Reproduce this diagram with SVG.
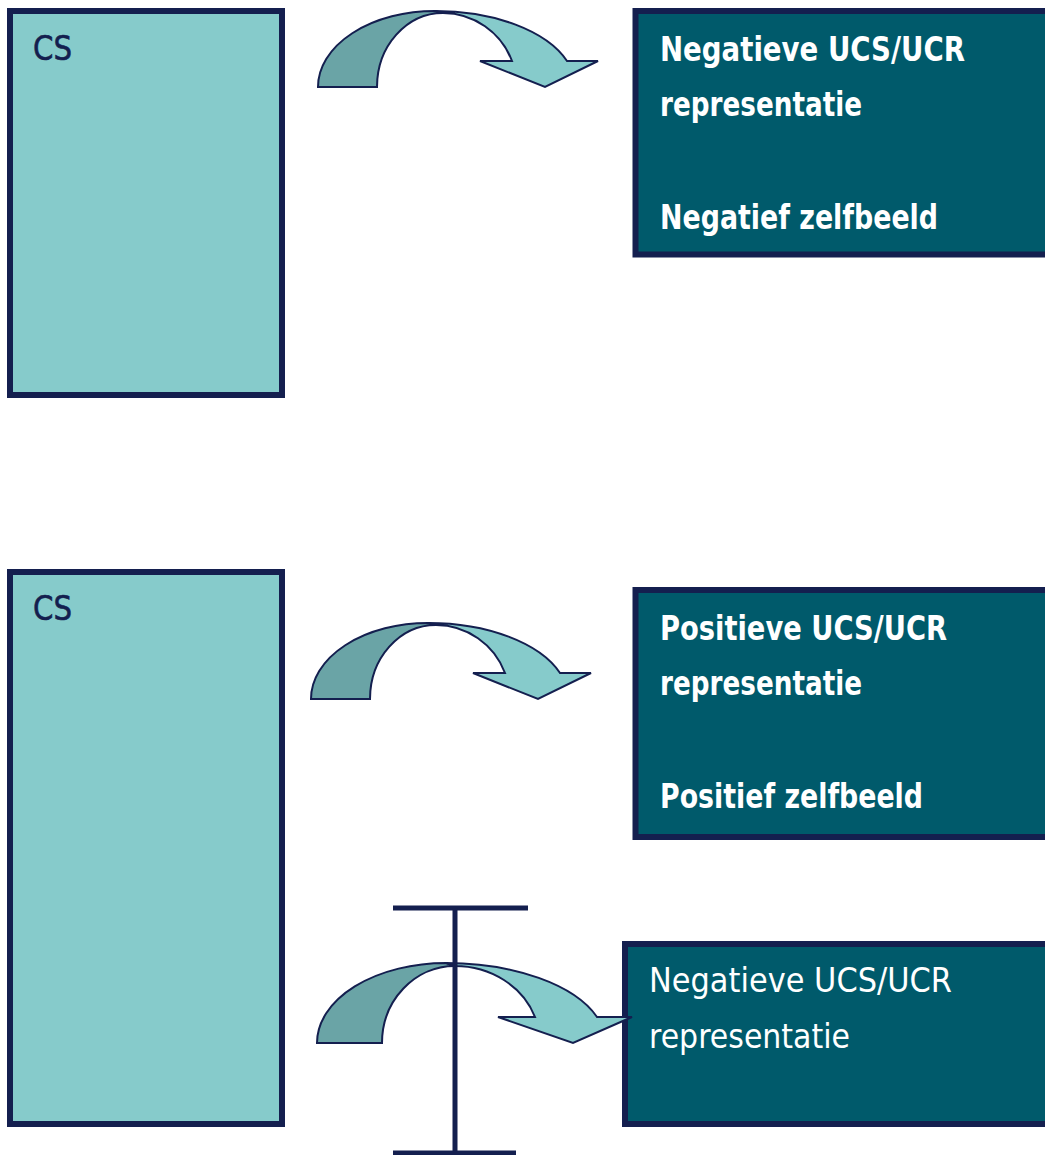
<svg xmlns="http://www.w3.org/2000/svg" width="1045" height="1155" viewBox="0 0 1045 1155">
  <style>
    .cs { fill: #86cbcb; stroke: #141f4f; stroke-width: 6; }
    .dk { fill: #005a6b; stroke: #141f4f; stroke-width: 6; }
    .cst { font-family: "DejaVu Sans", sans-serif; font-size: 33px; fill: #141f4f; stroke: #141f4f; stroke-width: 0.6; }
    .wt { font-family: "DejaVu Sans", sans-serif; font-size: 33px; font-weight: bold; fill: #ffffff; }
    .wr { font-family: "DejaVu Sans", sans-serif; font-size: 34px; fill: #ffffff; }
    .back { fill: #6aa4a6; stroke: #141f4f; stroke-width: 2; stroke-linejoin: miter; }
    .front { fill: #86cbcb; stroke: #141f4f; stroke-width: 2; stroke-linejoin: miter; }
    .bar { stroke: #141f4f; stroke-width: 5; fill: none; }
  </style>

  <g id="cs1">
    <rect class="cs" x="10" y="11" width="272" height="384"/>
    <text class="cst" x="33" y="60" textLength="39" lengthAdjust="spacingAndGlyphs">CS</text>
  </g>
  <g id="cs2">
    <rect class="cs" x="10" y="572" width="272" height="552"/>
    <text class="cst" x="33" y="620" textLength="39" lengthAdjust="spacingAndGlyphs">CS</text>
  </g>

  <g id="neg1">
    <rect class="dk" x="635.5" y="11" width="420" height="243.5"/>
    <text class="wt" x="660" y="61" textLength="305" lengthAdjust="spacingAndGlyphs">Negatieve UCS/UCR</text>
    <text class="wt" x="660" y="116" textLength="202" lengthAdjust="spacingAndGlyphs">representatie</text>
    <text class="wt" x="660" y="229" textLength="278" lengthAdjust="spacingAndGlyphs">Negatief zelfbeeld</text>
  </g>
  <g id="pos">
    <rect class="dk" x="635.5" y="590" width="420" height="247"/>
    <text class="wt" x="660" y="640" textLength="287" lengthAdjust="spacingAndGlyphs">Positieve UCS/UCR</text>
    <text class="wt" x="660" y="695" textLength="202" lengthAdjust="spacingAndGlyphs">representatie</text>
    <text class="wt" x="660" y="808" textLength="263" lengthAdjust="spacingAndGlyphs">Positief zelfbeeld</text>
  </g>
  <g id="neg2">
    <rect class="dk" x="625" y="944" width="430" height="180"/>
    <text class="wr" x="649" y="992" textLength="303" lengthAdjust="spacingAndGlyphs">Negatieve UCS/UCR</text>
    <text class="wr" x="649" y="1048" textLength="201" lengthAdjust="spacingAndGlyphs">representatie</text>
  </g>

  <g id="connectors">
    <g id="arrow1">
      <path class="back" d="M318,87 A117,76 0 0 1 435,11 L443,13 A66,74 0 0 0 377,87 Z"/>
      <path class="front" d="M435,11 A140,76 0 0 1 567,61 L598,61 L545,87 L480,61 L512,61 A74,74 0 0 0 443,13 Z"/>
    </g>
    <g id="arrow2" transform="translate(-7,612)">
      <path class="back" d="M318,87 A117,76 0 0 1 435,11 L443,13 A66,74 0 0 0 377,87 Z"/>
      <path class="front" d="M435,11 A140,76 0 0 1 567,61 L598,61 L545,87 L480,61 L512,61 A74,74 0 0 0 443,13 Z"/>
    </g>
    <g id="arrow3">
      <path class="back" d="M317,1043 A129,80 0 0 1 446,963 L455,966 A73,77 0 0 0 382,1043 Z"/>
      <path class="front" d="M446,963 A160,80 0 0 1 597,1017 L632,1017 L573,1043 L498,1017 L535,1017 A85,77 0 0 0 455,966 Z"/>
    </g>
    <g id="inhibit">
      <line class="bar" x1="393" y1="908" x2="528" y2="908"/>
      <line class="bar" x1="455" y1="908" x2="455" y2="1153"/>
      <line class="bar" x1="393" y1="1153" x2="516" y2="1153"/>
    </g>
  </g>
</svg>
